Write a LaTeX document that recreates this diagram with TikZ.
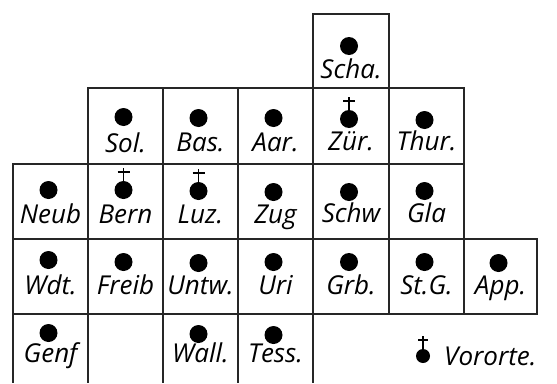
\documentclass[tikz,border=0pt]{standalone}
\usepackage{fontspec}
\setmainfont{Open Sans}
\begin{document}
\begin{tikzpicture}[x=1pt,y=-1pt,
  gridline/.style={line width=1.3pt, black!85},
  dotmark/.style={circle, fill=black, inner sep=0pt, minimum size=18pt},
  legenddot/.style={circle, fill=black, inner sep=0pt, minimum size=14pt},
  lbl/.style={anchor=base, inner sep=0pt, font=\fontsize{26}{30}\selectfont\itshape},
  crossmark/.style={line width=1.5pt}
]
\useasboundingbox (0,0) rectangle (557,383);
% grid
\draw[gridline] (313,14) rectangle (389,88);
\draw[gridline] (88,88) rectangle (464,164);
\foreach \x in {163,238,313,389} \draw[gridline] (\x,88) -- (\x,164);
\draw[gridline] (13,164) rectangle (464,239);
\foreach \x in {88,163,238,313,389} \draw[gridline] (\x,164) -- (\x,239);
\draw[gridline] (13,239) rectangle (537,314);
\foreach \x in {88,163,238,313,389,464} \draw[gridline] (\x,239) -- (\x,314);
\foreach \x in {13,88,163,238,313} \draw[gridline] (\x,314) -- (\x,383);
% cells: name / centre x / dot y / baseline y / text
\foreach \nm/\cx/\dy/\by/\tx in {
  scha/351/46/78/Scha.,
  sol/125.5/117/152/Sol.,
  bas/200.5/118/151/Bas.,
  aar/275.5/118/151/Aar.,
  zur/351/119/150/Zür.,
  thur/426.5/120/150/Thur.,
  neub/50.5/190/223/Neub,
  bern/125.5/190/223/Bern,
  luz/200.5/191/223/Luz.,
  zug/275.5/192/223/Zug,
  schw/351/192/222/Schw,
  gla/426.5/191/222/Gla,
  wdt/50.5/260/294/Wdt.,
  freib/125.5/262/294/Freib,
  untw/200.5/263/294/Untw.,
  uri/275.5/262/294/Uri,
  grb/351/262/294/Grb.,
  stg/426.5/262/294/St.G.,
  app/500.5/263/294/App.,
  genf/50.5/333/362/Genf,
  wall/200.5/334/362/Wall.,
  tess/275.5/335/362/Tess.}
{
  \node[dotmark] (d-\nm) at (\cx-2,\dy) {};
  \node[lbl] (l-\nm) at (\cx,\by) {\tx};
}
% crosses for Vororte
\foreach \nm in {bern,luz,zur}{
  \draw[crossmark] (d-\nm.north) -- ++(0,-13);
  \draw[crossmark] ([shift={(-6,-9)}]d-\nm.north) -- ++(12,0);
}
% legend
\node[legenddot] (d-leg) at (423,356) {};
\draw[crossmark] (d-leg.north) -- ++(0,-13);
\draw[crossmark] ([shift={(-5,-9)}]d-leg.north) -- ++(10,0);
\node[lbl, anchor=base west] (l-leg) at (444,365) {Vororte.};
\end{tikzpicture}
\end{document}
